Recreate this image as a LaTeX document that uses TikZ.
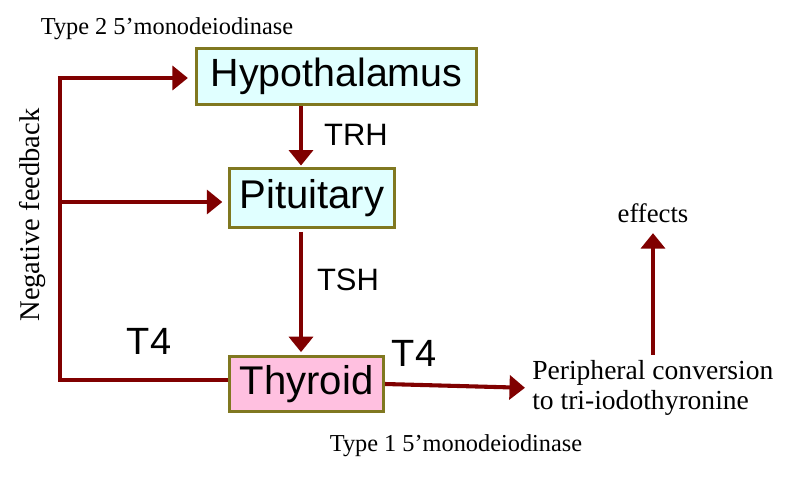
\documentclass[tikz,border=0pt]{standalone}
\usepackage{fontspec}
\setmainfont{Liberation Serif}
\newfontfamily\arialfont{Liberation Sans}
\usetikzlibrary{arrows.meta,calc}

\definecolor{arrred}{RGB}{128,0,0}
\definecolor{boxedge}{RGB}{128,120,32}
\definecolor{gland}{RGB}{224,255,255}
\definecolor{thyfill}{RGB}{255,192,224}

\tikzset{
  organ/.style={draw=boxedge, line width=2.2pt, fill=gland, inner sep=0pt,
    font=\arialfont\fontsize{28.5}{32}\selectfont},
  hormone/.style={font=\arialfont\fontsize{22}{26}\selectfont},
  notetext/.style={font=\fontsize{17.3}{20}\selectfont},
  arr/.style={draw=arrred, line width=2.9pt, -{Triangle[length=11pt,width=17pt]}},
  fbline/.style={draw=arrred, line width=2.9pt}
}

\begin{document}
\begin{tikzpicture}[x=0.025cm, y=-0.025cm]
  \useasboundingbox (0,0) rectangle (801,480);
  \node[notetext] (type2) at (167,29) {Type 2 5’monodeiodinase};
  \node[organ, minimum width=7cm, minimum height=1.4cm, font=\arialfont\fontsize{28}{32}\selectfont] (hyp) at (336.5,76.5) {Hypothalamus};
  \node[organ, minimum width=4.125cm, minimum height=1.475cm] (pit) at (312,198) {Pituitary};
  \node[organ, fill=thyfill, minimum width=3.85cm, minimum height=1.375cm] (thy) at (306.5,384) {Thyroid};
  \coordinate (axis) at (301,0);
  \draw[arr, shorten >=1pt] (hyp.south -| axis) -- (pit.north -| axis);
  \node[hormone] (trh) at (356,135) {TRH};
  \draw[arr, shorten <=2pt, shorten >=2pt] (pit.south -| axis) -- (thy.north -| axis);
  \node[hormone] (tsh) at (348,280) {TSH};
  \coordinate (fbtop) at (60,78);
  \coordinate (fbmid) at (60,202);
  \coordinate (fbbot) at (60,380);
  \draw[fbline, line join=miter] (fbtop) -- (fbbot) -- (thy.west |- fbbot);
  \draw[arr, shorten >=5pt] ($(fbtop)+(-1.45pt,0)$) -- (hyp.west |- fbtop);
  \draw[arr, shorten >=4pt] (fbmid) -- (pit.west |- fbmid);
  \node[font=\fontsize{20.3}{24}\selectfont, rotate=90] (negfb) at (33,215) {Negative feedback};
  \node[hormone, font=\arialfont\fontsize{27}{30}\selectfont] (t4a) at (149,341) {T4};
  \node[hormone, font=\arialfont\fontsize{27}{30}\selectfont] (t4b) at (414,353) {T4};
  \node[font=\fontsize{19.6}{21}\selectfont, align=left, anchor=west, inner sep=0pt] (per) at (532,388)
    {Peripheral conversion\\to tri-iodothyronine};
  \draw[arr, shorten >=5pt] (thy.east) -- (per.west);
  \node[font=\fontsize{19}{22}\selectfont] (eff) at (653,213) {effects};
  \draw[arr, shorten <=4pt, shorten >=4pt] (per.north -| eff.south) -- (eff.south);
  \node[notetext] (type1) at (456,446) {Type 1 5’monodeiodinase};
\end{tikzpicture}
\end{document}
